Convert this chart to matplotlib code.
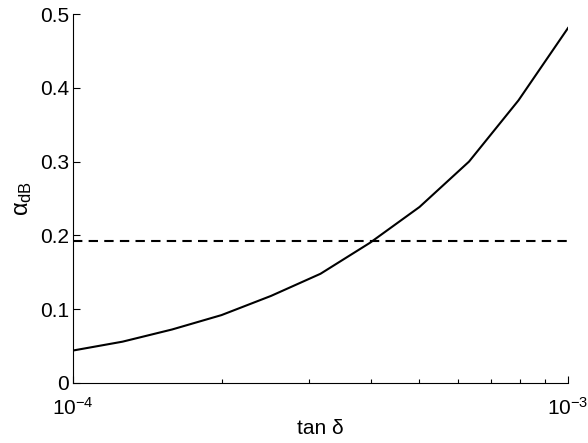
import numpy as np
import matplotlib
matplotlib.use("Agg")
import matplotlib.pyplot as plt
from matplotlib.ticker import FixedLocator, FixedFormatter, LogLocator, NullFormatter

# Data
tan_delta = [1.0e-4, 1.259e-4, 1.585e-4, 1.995e-4, 2.512e-4, 3.162e-4,
             3.981e-4, 5.012e-4, 6.310e-4, 7.943e-4, 1.0e-3]
alpha_dB = [0.044, 0.056, 0.0725, 0.092, 0.118, 0.148,
            0.190, 0.2385, 0.300, 0.383, 0.481]
threshold = 0.192
y_ticks = [0, 0.1, 0.2, 0.3, 0.4, 0.5]
y_tick_labels = ["0", "0.1", "0.2", "0.3", "0.4", "0.5"]

plt.rcParams['font.family'] = ['Liberation Sans', 'DejaVu Sans']
plt.rcParams['mathtext.fontset'] = 'custom'
plt.rcParams['mathtext.rm'] = 'Liberation Sans'
plt.rcParams['mathtext.it'] = 'Liberation Sans'

fig = plt.figure(figsize=(5.88, 4.43), dpi=100)
ax = fig.add_axes([73/588, 60/443, (568-73)/588, (383-14)/443])

ax.plot(tan_delta, alpha_dB, color='black', lw=1.5)
ax.axhline(threshold, color='black', lw=1.5, dashes=(4.5, 3))

ax.set_xscale('log')
ax.set_xlim(1e-4, 1e-3)
ax.set_ylim(0, 0.5)

ax.yaxis.set_major_locator(FixedLocator(y_ticks))
ax.yaxis.set_major_formatter(FixedFormatter(y_tick_labels))
ax.xaxis.set_major_locator(LogLocator(base=10))
ax.xaxis.set_minor_locator(LogLocator(base=10, subs=np.arange(2, 10)))
ax.xaxis.set_minor_formatter(NullFormatter())

for s in ['top', 'right']:
    ax.spines[s].set_visible(False)
for s in ['left', 'bottom']:
    ax.spines[s].set_linewidth(0.8)

ax.tick_params(axis='both', which='major', direction='in', length=5, width=0.8,
               labelsize=15)
ax.tick_params(axis='x', which='minor', direction='in', length=3, width=0.8)
ax.tick_params(axis='y', pad=3)
ax.tick_params(axis='x', pad=10)

ax.set_xlabel('tan δ', fontsize=15, labelpad=0)
ax.set_ylabel(r'$\alpha_{\mathrm{dB}}$', fontsize=17, labelpad=4)

fig.savefig('out.png', dpi=100)
